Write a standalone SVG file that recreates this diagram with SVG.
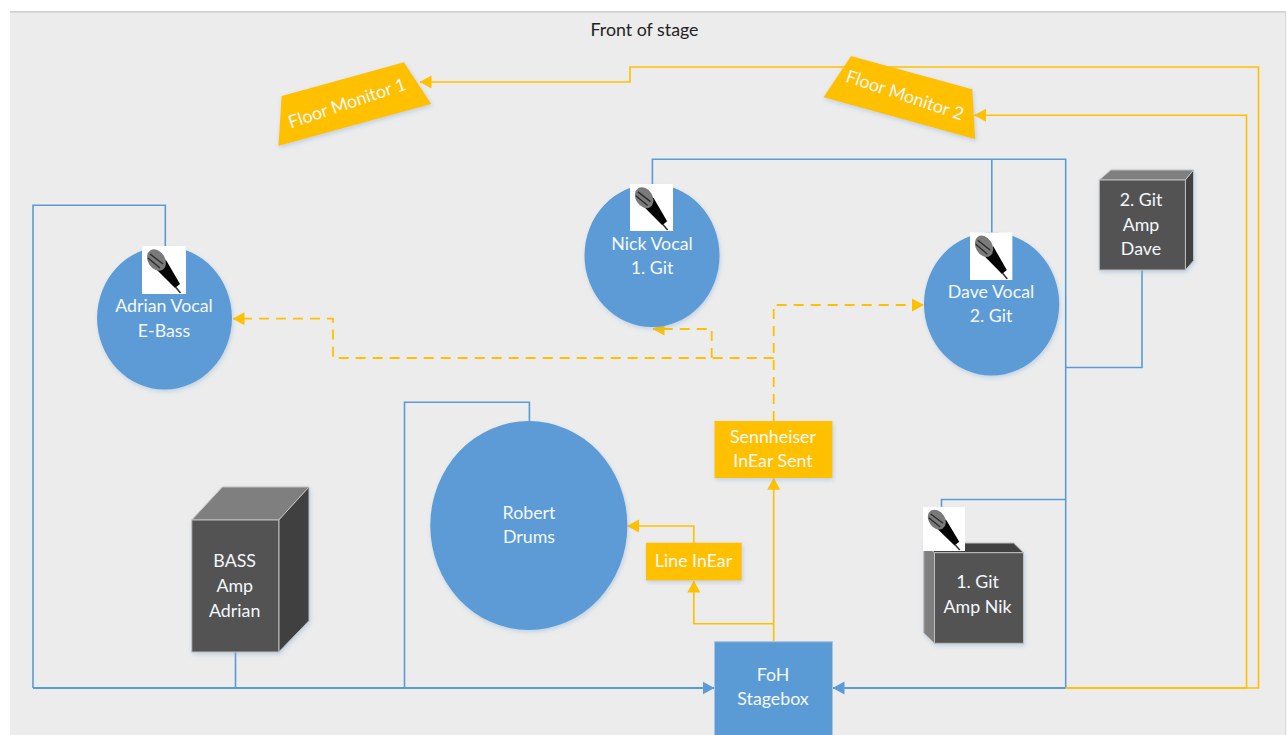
<svg xmlns="http://www.w3.org/2000/svg" width="1287" height="735" viewBox="0 0 1287 735">
<style>
text{font-family:"Lato","Liberation Sans",sans-serif;font-size:17.800px;fill:#f4f8fc;text-anchor:middle}
.title{fill:#222;font-size:17.800px}
.blue{fill:#5b9bd5}
.yel{fill:#ffc000}
.front{fill:#525252;stroke:#bfbfbf;stroke-width:1}
.lite{fill:#7f7f7f;stroke:#bfbfbf;stroke-width:1}
.dark{fill:#3f3f3f;stroke:#bfbfbf;stroke-width:1}
.b{fill:none;stroke:#5b9bd5;stroke-width:1.600}
.y{fill:none;stroke:#ffc000;stroke-width:1.600}
.d{stroke-dasharray:10 7;stroke-width:1.800}
.a-b{marker-end:url(#ab)}
.a-y{marker-end:url(#ay)}
.sh{filter:url(#soft)}
</style>
<defs>
<filter id="soft" x="-10%" y="-10%" width="120%" height="120%"><feDropShadow dx="1" dy="2" stdDeviation="2" flood-color="#7aa7d6" flood-opacity="0.400"/></filter>
<marker id="ab" markerUnits="userSpaceOnUse" markerWidth="12" markerHeight="14" viewBox="0 0 12 14" refX="11.500" refY="7" orient="auto"><path d="M0 0.500L12 7L0 13.500z" fill="#5b9bd5"/></marker>
<marker id="ay" markerUnits="userSpaceOnUse" markerWidth="12" markerHeight="14" viewBox="0 0 12 14" refX="11.500" refY="7" orient="auto"><path d="M0 0.500L12 7L0 13.500z" fill="#ffc000"/></marker>
<symbol id="mic" viewBox="0 0 44 48" preserveAspectRatio="none">
<rect width="44" height="48" fill="#fff"/>
<path d="M13 22L24 14L38 38L33 42z" fill="#050505"/>
<path d="M33.500 41L38.500 47" stroke="#333" stroke-width="1.600"/>
<ellipse cx="14.500" cy="14" rx="8.500" ry="11.500" transform="rotate(-32 14.500 14)" fill="#7a7a7a"/>
<path d="M8 8L21 18M6 12L18 22" stroke="#2b2b2b" stroke-width="1.400"/>
</symbol>
</defs>
<rect width="1287" height="735" fill="#fff"/>
<rect id="stage" x="10" y="11.500" width="1276" height="724" fill="#ececec"/>
<path d="M10 11.800H1286" stroke="#c4c4c4" stroke-width="1.200" fill="none"/>
<path d="M1285.700 12V735" stroke="#d4d4d4" stroke-width="1" fill="none"/>
<text class="title" x="644.500" y="36">Front of stage</text>

<g id="connectors">
<path class="b" d="M165.300 247V205.300H33V688"/>
<path class="b a-b" d="M33 688H714" style="stroke-width:2"/>
<path class="b" d="M235.500 652V688"/>
<path class="b" d="M529.400 421V402.300H404.500V688"/>
<path class="b" d="M652.400 186V159.300H1065.700V688"/>
<path class="b a-b" d="M1065.700 688H833" style="stroke-width:2"/>
<path class="b" d="M991.800 233V159.300"/>
<path class="b" d="M1142 270V367.500H1065.700"/>
<path class="b" d="M941.500 507V499.500H1065.700"/>
<path class="y a-y" d="M1065.700 688H1258.500V67H630V82H420"/>
<path class="y a-y" d="M1065.700 688H1246.500V115.300H974.500"/>
<path class="y a-y" d="M773.700 642V478.300"/>
<path class="y a-y" d="M773.700 623.700H693.800V581"/>
<path class="y a-y" d="M693.800 543V526H627.500"/>
<path class="y d a-y" d="M773.700 421V305H923.500"/>
<path class="y d a-y" d="M773.700 358H333V318.700H233"/>
<path class="y d a-y" d="M711.700 358V329H653"/>
</g>

<g id="floor-monitor-1">
<path class="yel sh" d="M281.600 96L404 62.300L431.400 104L278.400 146z"/>
<text transform="translate(349 109) rotate(-18.600)">Floor Monitor 1</text>
</g>
<g id="floor-monitor-2">
<path class="yel sh" d="M851 56L972.400 89.300L975.300 139.300L823.400 97.300z"/>
<text transform="translate(903 101) rotate(18.600)">Floor Monitor 2</text>
</g>

<g id="adrian">
<ellipse class="blue sh" cx="164.500" cy="318" rx="67.400" ry="71.500"/>
<use href="#mic" x="142" y="246" width="44" height="48"/>
<text x="164" y="311.500">Adrian Vocal</text>
<text x="164" y="336.500">E-Bass</text>
</g>
<g id="nick">
<ellipse class="blue sh" cx="652" cy="255.500" rx="67.500" ry="71.500"/>
<use href="#mic" x="630" y="184" width="43" height="47"/>
<text x="652" y="249.500">Nick Vocal</text>
<text x="652" y="273.500">1. Git</text>
</g>
<g id="dave">
<ellipse class="blue sh" cx="991.600" cy="304" rx="67.600" ry="71.500"/>
<use href="#mic" x="970" y="232.300" width="42.600" height="47.700"/>
<text x="991" y="297.700">Dave Vocal</text>
<text x="991" y="321.700">2. Git</text>
</g>
<g id="robert">
<ellipse class="blue sh" cx="528.800" cy="525.500" rx="98.500" ry="104.500"/>
<text x="529" y="519">Robert</text>
<text x="529" y="543.300">Drums</text>
</g>

<g id="git-amp-2">
<g class="sh">
<path class="lite" d="M1099.300 180L1110.900 170H1193.500L1185.400 180z"/>
<path class="dark" d="M1185.400 180L1193.500 170V260.700L1185.400 270z"/>
<rect class="front" x="1099.300" y="180" width="86.100" height="90"/>
</g>
<text x="1141" y="205.700">2. Git</text>
<text x="1141" y="231">Amp</text>
<text x="1141" y="255">Dave</text>
</g>
<g id="bass-amp">
<g class="sh">
<path class="lite" d="M191.800 520L222.400 487H309L278.800 520z"/>
<path class="dark" d="M278.800 520L309 487V620.700L278.800 652z"/>
<rect class="front" x="191.800" y="520" width="87" height="132"/>
</g>
<text x="234.700" y="567">BASS</text>
<text x="234.700" y="592">Amp</text>
<text x="234.700" y="616.700">Adrian</text>
</g>
<g id="git-amp-1">
<g class="sh">
<path class="dark" d="M923.800 543H1013.600L1023.500 552.700H934.500z"/>
<path class="lite" d="M923.800 543L934.500 552.700V643.300L923.800 633z"/>
<rect class="front" x="934.500" y="552.700" width="89" height="90.600"/>
</g>
<use href="#mic" x="923" y="506.700" width="42" height="44.300"/>
<text x="977.500" y="587.700">1. Git</text>
<text x="977.500" y="612.700">Amp Nik</text>
</g>

<g id="sennheiser">
<rect class="yel sh" x="714.500" y="421" width="118" height="57"/>
<text x="773" y="443.300">Sennheiser</text>
<text x="773" y="467.300">InEar Sent</text>
</g>
<g id="line-inear">
<rect class="yel sh" x="646" y="542.700" width="95.800" height="37.800"/>
<text x="693.500" y="567.300">Line InEar</text>
</g>
<g id="foh">
<rect class="blue" x="714.500" y="641.700" width="118" height="94" stroke="#a9c4e0" stroke-width="1"/>
<text x="773" y="681">FoH</text>
<text x="773" y="705">Stagebox</text>
</g>
</svg>
